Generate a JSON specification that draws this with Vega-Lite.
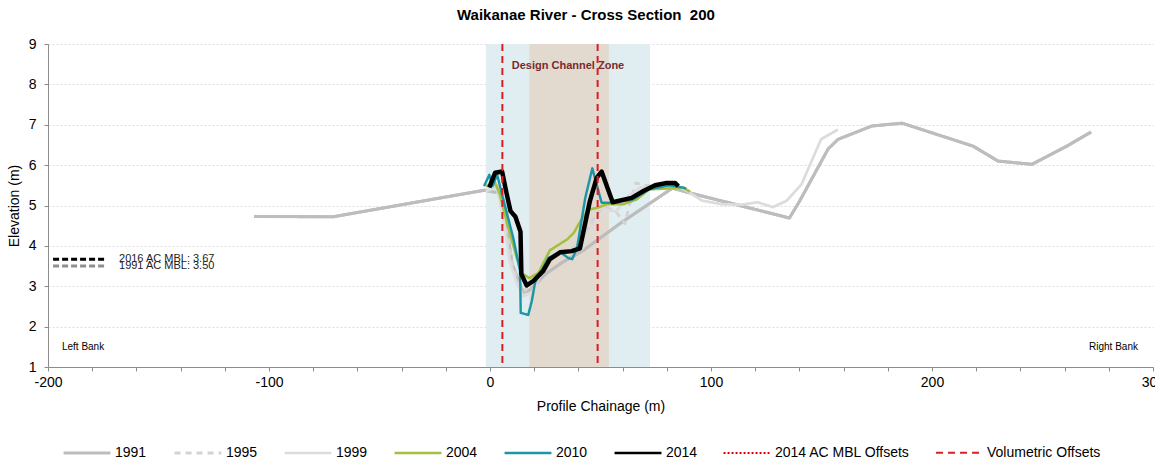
{
  "$schema": "https://vega.github.io/schema/vega-lite/v6.json",
  "width": 1105,
  "height": 323,
  "padding": {"left": 7, "top": 8, "right": 5, "bottom": 5},
  "background": "white",
  "config": {
    "view": {"stroke": null},
    "font": "Liberation Sans",
    "axis": {"labelFont": "Liberation Sans", "titleFont": "Liberation Sans", "labelColor": "#000", "titleColor": "#000", "labelFontSize": 14, "titleFontSize": 14, "titleFontWeight": "normal", "domainColor": "#8c8c8c", "tickColor": "#8c8c8c", "labelFlush": false}
  },
  "title": {"text": "Waikanae River - Cross Section\u00a0 200", "font": "Liberation Sans", "fontSize": 15, "fontWeight": "bold", "color": "#000", "offset": 14, "frame": "bounds", "anchor": "middle"},
  "datasets": {
    "profiles": [
      {"series": "1991", "x": -106.8, "elev": 4.73},
      {"series": "1991", "x": -71, "elev": 4.72},
      {"series": "1991", "x": -2.5, "elev": 5.38},
      {"series": "1991", "x": 5, "elev": 5.3},
      {"series": "1991", "x": 7.5, "elev": 4.5},
      {"series": "1991", "x": 10, "elev": 3.55},
      {"series": "1991", "x": 15, "elev": 2.85},
      {"series": "1991", "x": 18, "elev": 2.9},
      {"series": "1991", "x": 25, "elev": 3.3},
      {"series": "1991", "x": 33, "elev": 3.6},
      {"series": "1991", "x": 42, "elev": 3.88},
      {"series": "1991", "x": 60, "elev": 4.6},
      {"series": "1991", "x": 82.5, "elev": 5.43},
      {"series": "1991", "x": 90.5, "elev": 5.31},
      {"series": "1991", "x": 135.5, "elev": 4.69},
      {"series": "1991", "x": 140, "elev": 5.1},
      {"series": "1991", "x": 153, "elev": 6.4},
      {"series": "1991", "x": 157.5, "elev": 6.64},
      {"series": "1991", "x": 172.9, "elev": 6.97},
      {"series": "1991", "x": 186.4, "elev": 7.04},
      {"series": "1991", "x": 218.6, "elev": 6.47},
      {"series": "1991", "x": 229.9, "elev": 6.1},
      {"series": "1991", "x": 245.2, "elev": 6.02},
      {"series": "1991", "x": 261, "elev": 6.47},
      {"series": "1991", "x": 272, "elev": 6.82},
      {"series": "1995", "x": -1, "elev": 5.45},
      {"series": "1995", "x": 3, "elev": 5.55},
      {"series": "1995", "x": 7, "elev": 4.6},
      {"series": "1995", "x": 10, "elev": 3.6},
      {"series": "1995", "x": 13, "elev": 3.0},
      {"series": "1995", "x": 16, "elev": 2.9},
      {"series": "1995", "x": 20, "elev": 3.15},
      {"series": "1995", "x": 25, "elev": 3.55},
      {"series": "1995", "x": 30, "elev": 3.8},
      {"series": "1995", "x": 38, "elev": 3.95},
      {"series": "1995", "x": 44, "elev": 4.4},
      {"series": "1995", "x": 48, "elev": 4.8},
      {"series": "1995", "x": 53, "elev": 4.95},
      {"series": "1995", "x": 57, "elev": 4.85},
      {"series": "1995", "x": 61, "elev": 4.55},
      {"series": "1995", "x": 64, "elev": 5.2},
      {"series": "1995", "x": 66, "elev": 5.56},
      {"series": "1995", "x": 69, "elev": 5.52},
      {"series": "1995", "x": 75, "elev": 5.45},
      {"series": "1995", "x": 84, "elev": 5.48},
      {"series": "1999", "x": -2, "elev": 5.35},
      {"series": "1999", "x": 3, "elev": 5.45},
      {"series": "1999", "x": 6, "elev": 4.7},
      {"series": "1999", "x": 9, "elev": 3.6},
      {"series": "1999", "x": 12, "elev": 3.1},
      {"series": "1999", "x": 15, "elev": 2.75},
      {"series": "1999", "x": 19, "elev": 2.85},
      {"series": "1999", "x": 23, "elev": 3.3},
      {"series": "1999", "x": 28, "elev": 3.75},
      {"series": "1999", "x": 35, "elev": 3.85},
      {"series": "1999", "x": 42, "elev": 3.95},
      {"series": "1999", "x": 47, "elev": 4.5},
      {"series": "1999", "x": 52, "elev": 4.9},
      {"series": "1999", "x": 57, "elev": 4.85},
      {"series": "1999", "x": 62, "elev": 5.2},
      {"series": "1999", "x": 68, "elev": 5.45},
      {"series": "1999", "x": 76, "elev": 5.45},
      {"series": "1999", "x": 84, "elev": 5.5},
      {"series": "1999", "x": 88, "elev": 5.4},
      {"series": "1999", "x": 96, "elev": 5.12},
      {"series": "1999", "x": 105, "elev": 5.03},
      {"series": "1999", "x": 114, "elev": 5.02},
      {"series": "1999", "x": 121, "elev": 5.08},
      {"series": "1999", "x": 128, "elev": 4.96},
      {"series": "1999", "x": 134.3, "elev": 5.12},
      {"series": "1999", "x": 141, "elev": 5.53},
      {"series": "1999", "x": 149.8, "elev": 6.64},
      {"series": "1999", "x": 157.4, "elev": 6.88},
      {"series": "2004", "x": -1.8, "elev": 5.48},
      {"series": "2004", "x": 2.3, "elev": 5.56},
      {"series": "2004", "x": 4.5, "elev": 5.27},
      {"series": "2004", "x": 8.3, "elev": 4.45},
      {"series": "2004", "x": 12.1, "elev": 3.7},
      {"series": "2004", "x": 14.3, "elev": 3.33},
      {"series": "2004", "x": 17.8, "elev": 3.2},
      {"series": "2004", "x": 21.9, "elev": 3.33},
      {"series": "2004", "x": 27.1, "elev": 3.89},
      {"series": "2004", "x": 34.9, "elev": 4.16},
      {"series": "2004", "x": 37.9, "elev": 4.32},
      {"series": "2004", "x": 40.9, "elev": 4.61},
      {"series": "2004", "x": 44.6, "elev": 4.9},
      {"series": "2004", "x": 48.4, "elev": 4.94},
      {"series": "2004", "x": 52.9, "elev": 5.03},
      {"series": "2004", "x": 60.3, "elev": 5.03},
      {"series": "2004", "x": 66.3, "elev": 5.15},
      {"series": "2004", "x": 72, "elev": 5.4},
      {"series": "2004", "x": 80, "elev": 5.42},
      {"series": "2004", "x": 87.4, "elev": 5.45},
      {"series": "2004", "x": 90.5, "elev": 5.34},
      {"series": "2010", "x": -2.7, "elev": 5.48},
      {"series": "2010", "x": -0.3, "elev": 5.76},
      {"series": "2010", "x": 1.2, "elev": 5.48},
      {"series": "2010", "x": 3.2, "elev": 5.77},
      {"series": "2010", "x": 5.3, "elev": 5.31},
      {"series": "2010", "x": 10.5, "elev": 4.2},
      {"series": "2010", "x": 13.6, "elev": 3.38},
      {"series": "2010", "x": 13.9, "elev": 2.34},
      {"series": "2010", "x": 17.3, "elev": 2.29},
      {"series": "2010", "x": 18.9, "elev": 2.63},
      {"series": "2010", "x": 20.4, "elev": 3.09},
      {"series": "2010", "x": 26.4, "elev": 3.7},
      {"series": "2010", "x": 31.7, "elev": 3.85},
      {"series": "2010", "x": 35.4, "elev": 3.7},
      {"series": "2010", "x": 37.2, "elev": 3.67},
      {"series": "2010", "x": 39.4, "elev": 3.95},
      {"series": "2010", "x": 43.1, "elev": 5.19},
      {"series": "2010", "x": 46.3, "elev": 5.92},
      {"series": "2010", "x": 50.5, "elev": 5.07},
      {"series": "2010", "x": 54.3, "elev": 5.07},
      {"series": "2010", "x": 64.3, "elev": 5.14},
      {"series": "2010", "x": 72, "elev": 5.4},
      {"series": "2010", "x": 81, "elev": 5.5},
      {"series": "2010", "x": 85, "elev": 5.47},
      {"series": "2010", "x": 88.8, "elev": 5.42},
      {"series": "2014", "x": -0.3, "elev": 5.45},
      {"series": "2014", "x": 2.3, "elev": 5.81},
      {"series": "2014", "x": 5.5, "elev": 5.84},
      {"series": "2014", "x": 7.5, "elev": 5.3},
      {"series": "2014", "x": 9.3, "elev": 4.86},
      {"series": "2014", "x": 11.5, "elev": 4.72},
      {"series": "2014", "x": 13.8, "elev": 4.35},
      {"series": "2014", "x": 14.2, "elev": 3.3},
      {"series": "2014", "x": 16.6, "elev": 3.02},
      {"series": "2014", "x": 19.6, "elev": 3.13},
      {"series": "2014", "x": 24.1, "elev": 3.38},
      {"series": "2014", "x": 27.1, "elev": 3.67},
      {"series": "2014", "x": 31.7, "elev": 3.84},
      {"series": "2014", "x": 37, "elev": 3.87},
      {"series": "2014", "x": 40.7, "elev": 3.94},
      {"series": "2014", "x": 45.2, "elev": 5.11},
      {"series": "2014", "x": 48.3, "elev": 5.69},
      {"series": "2014", "x": 50.5, "elev": 5.84},
      {"series": "2014", "x": 55.5, "elev": 5.08},
      {"series": "2014", "x": 64.1, "elev": 5.19},
      {"series": "2014", "x": 69.4, "elev": 5.36},
      {"series": "2014", "x": 74.7, "elev": 5.5},
      {"series": "2014", "x": 80, "elev": 5.56},
      {"series": "2014", "x": 83.7, "elev": 5.56},
      {"series": "2014", "x": 85.2, "elev": 5.48}
    ],
    "offsets": [
      {"series": "Volumetric Offsets", "x": 5.6},
      {"series": "Volumetric Offsets", "x": 48.7}
    ],
    "bands": [
      {"zone": "outer", "start": -1.9, "end": 72.4},
      {"zone": "design", "start": 17.8, "end": 53.8}
    ],
    "mbl": [
      {"label": "2016 AC MBL: 3.67", "year": "2016", "from": -197.7, "to": -174.2, "elev": 3.67},
      {"label": "1991 AC MBL: 3.50", "year": "1991", "from": -197.7, "to": -174.2, "elev": 3.5}
    ],
    "notes": [
      {"text": "Left Bank", "side": "left", "x": -193.7, "elev": 1.5},
      {"text": "Right Bank", "side": "right", "x": 293.2, "elev": 1.5}
    ],
    "zoneLabel": [
      {"text": "Design Channel Zone", "x": 35.3, "elev": 8.45}
    ]
  },
  "layer": [
    {
      "data": {"name": "bands"},
      "transform": [{"filter": "datum.zone === 'outer'"}],
      "mark": {"type": "rect", "color": "#e0eef2"},
      "encoding": {
        "x": {"field": "start", "type": "quantitative", "scale": {"domain": [-200, 300], "nice": false, "zero": false}},
        "x2": {"field": "end"}
      }
    },
    {
      "data": {"name": "bands"},
      "transform": [{"filter": "datum.zone === 'design'"}],
      "mark": {"type": "rect", "color": "#e2dacf"},
      "encoding": {
        "x": {"field": "start", "type": "quantitative"},
        "x2": {"field": "end"}
      }
    },
    {
      "data": {"name": "zoneLabel"},
      "mark": {"type": "text", "font": "Liberation Sans", "fontSize": 11, "fontWeight": "bold", "color": "#7a2a2e", "align": "center", "baseline": "middle"},
      "encoding": {
        "x": {"field": "x", "type": "quantitative"},
        "y": {"field": "elev", "type": "quantitative"},
        "text": {"field": "text"}
      }
    },
    {
      "data": {"name": "profiles"},
      "transform": [{"filter": "datum.series === '1991'"}],
      "mark": {"type": "line", "color": "#bdbdbd", "strokeWidth": 3, "strokeJoin": "round"},
      "encoding": {
        "x": {"field": "x", "type": "quantitative"},
        "y": {"field": "elev", "type": "quantitative"}
      }
    },
    {
      "data": {"name": "profiles"},
      "mark": {"type": "line", "strokeJoin": "round"},
      "encoding": {
        "x": {
          "field": "x", "type": "quantitative",
          "scale": {"domain": [-200, 300], "nice": false, "zero": false},
          "axis": {
            "title": "Profile Chainage (m)",
            "values": [-200, -190, -180, -170, -160, -150, -140, -130, -120, -110, -100, -90, -80, -70, -60, -50, -40, -30, -20, -10, 0, 10, 20, 30, 40, 50, 60, 70, 80, 90, 100, 110, 120, 130, 140, 150, 160, 170, 180, 190, 200, 210, 220, 230, 240, 250, 260, 270, 280, 290, 300],
            "labelExpr": "datum.value % 50 === 0 ? '' + datum.value : ''",
            "labelOverlap": false,
            "labelFlush": false,
            "grid": false,
            "tickSize": 4,
            "labelPadding": 4,
            "titlePadding": 10
          }
        },
        "y": {
          "field": "elev", "type": "quantitative",
          "scale": {"domain": [1, 9], "nice": false, "zero": false},
          "axis": {
            "title": "Elevation (m)",
            "values": [1, 2, 3, 4, 5, 6, 7, 8, 9],
            "grid": true,
            "gridDash": [2, 2],
            "gridColor": "#dedede",
            "tickSize": 4,
            "labelPadding": 8,
            "labelFlush": false,
            "titlePadding": 7
          }
        },
        "color": {
          "field": "series", "type": "nominal",
          "scale": {
            "domain": ["1991", "1995", "1999", "2004", "2010", "2014", "2014 AC MBL Offsets", "Volumetric Offsets"],
            "range": ["#bdbdbd", "#d3d3d3", "#dcdcdc", "#a4c03c", "#1c95a6", "#000000", "#e00000", "#d91f26"]
          },
          "legend": {
            "title": null,
            "orient": "none",
            "legendX": 14,
            "legendY": 384,
            "direction": "horizontal",
            "symbolType": "stroke",
            "symbolSize": 2200,
            "labelOffset": 3,
            "columnPadding": 21,
            "labelFontSize": 14,
            "labelFont": "Liberation Sans",
            "labelColor": "#000"
          }
        },
        "strokeDash": {
          "field": "series", "type": "nominal",
          "scale": {
            "domain": ["1991", "1995", "1999", "2004", "2010", "2014", "2014 AC MBL Offsets", "Volumetric Offsets"],
            "range": [[1, 0], [6, 5], [1, 0], [1, 0], [1, 0], [1, 0], [2, 2], [7, 5]]
          },
          "legend": {
            "title": null,
            "orient": "none",
            "legendX": 14,
            "legendY": 384,
            "direction": "horizontal",
            "symbolType": "stroke",
            "symbolSize": 2200,
            "labelOffset": 3,
            "columnPadding": 21,
            "labelFontSize": 14,
            "labelFont": "Liberation Sans",
            "labelColor": "#000"
          }
        },
        "strokeWidth": {
          "field": "series", "type": "nominal",
          "scale": {
            "domain": ["1991", "1995", "1999", "2004", "2010", "2014", "2014 AC MBL Offsets", "Volumetric Offsets"],
            "range": [3, 2, 2.5, 2, 2, 4.5, 2, 2]
          },
          "legend": {
            "title": null,
            "orient": "none",
            "legendX": 14,
            "legendY": 384,
            "direction": "horizontal",
            "symbolType": "stroke",
            "symbolSize": 2200,
            "labelOffset": 3,
            "columnPadding": 21,
            "labelFontSize": 14,
            "labelFont": "Liberation Sans",
            "labelColor": "#000"
          }
        }
      }
    },
    {
      "data": {"name": "profiles"},
      "transform": [{"filter": "datum.series === '2014'"}],
      "mark": {"type": "line", "color": "#000000", "strokeWidth": 4.5, "strokeJoin": "round"},
      "encoding": {
        "x": {"field": "x", "type": "quantitative"},
        "y": {"field": "elev", "type": "quantitative"}
      }
    },
    {
      "data": {"name": "offsets"},
      "mark": {"type": "rule"},
      "encoding": {
        "x": {"field": "x", "type": "quantitative"},
        "color": {"field": "series", "type": "nominal"},
        "strokeDash": {"field": "series", "type": "nominal"},
        "strokeWidth": {"field": "series", "type": "nominal"}
      }
    },
    {
      "data": {"name": "mbl"},
      "transform": [{"filter": "datum.year === '2016'"}],
      "mark": {"type": "rule", "color": "#000000", "strokeWidth": 3, "strokeDash": [6, 3]},
      "encoding": {
        "x": {"field": "from", "type": "quantitative"},
        "x2": {"field": "to"},
        "y": {"field": "elev", "type": "quantitative"}
      }
    },
    {
      "data": {"name": "mbl"},
      "transform": [{"filter": "datum.year === '1991'"}],
      "mark": {"type": "rule", "color": "#8f8f8f", "strokeWidth": 3, "strokeDash": [6, 3]},
      "encoding": {
        "x": {"field": "from", "type": "quantitative"},
        "x2": {"field": "to"},
        "y": {"field": "elev", "type": "quantitative"}
      }
    },
    {
      "data": {"name": "mbl"},
      "mark": {"type": "text", "font": "Liberation Sans", "fontSize": 11, "color": "#222", "align": "left", "baseline": "middle", "dx": 14},
      "encoding": {
        "x": {"field": "to", "type": "quantitative"},
        "y": {"field": "elev", "type": "quantitative"},
        "text": {"field": "label"}
      }
    },
    {
      "data": {"name": "notes"},
      "transform": [{"filter": "datum.side === 'left'"}],
      "mark": {"type": "text", "font": "Liberation Sans", "fontSize": 10, "color": "#000", "align": "left", "baseline": "middle"},
      "encoding": {
        "x": {"field": "x", "type": "quantitative"},
        "y": {"field": "elev", "type": "quantitative"},
        "text": {"field": "text"}
      }
    },
    {
      "data": {"name": "notes"},
      "transform": [{"filter": "datum.side === 'right'"}],
      "mark": {"type": "text", "font": "Liberation Sans", "fontSize": 10, "color": "#000", "align": "right", "baseline": "middle"},
      "encoding": {
        "x": {"field": "x", "type": "quantitative"},
        "y": {"field": "elev", "type": "quantitative"},
        "text": {"field": "text"}
      }
    }
  ]
}
